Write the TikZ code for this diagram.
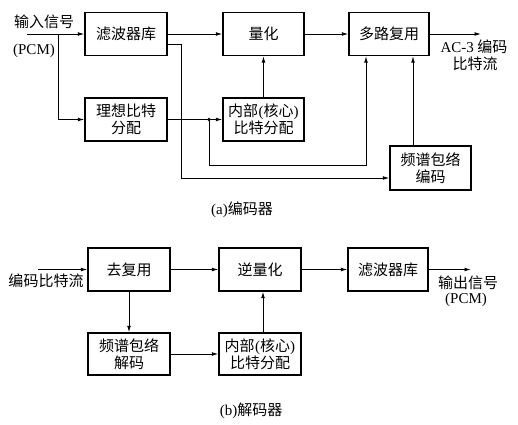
\documentclass[tikz,border=0pt]{standalone}
\usepackage{fontspec}
\setmainfont{Liberation Serif}
\newfontfamily\cjk{Noto Sans CJK SC}
\newfontfamily\lat{Liberation Serif}
\usetikzlibrary{arrows.meta}
\tikzset{
  blk/.style={draw, line width=1.3pt, minimum width=82pt, minimum height=43pt, inner sep=0pt, align=center, font=\cjk\fontsize{15}{17}\selectfont},
  arr/.style={line width=0.9pt, -{Latex[length=6.5pt,width=3.8pt]}},
  ln/.style={line width=0.9pt},
  lbl/.style={inner sep=0pt, font=\cjk\fontsize{15}{17}\selectfont}
}
\begin{document}
\begin{tikzpicture}[x=1pt,y=-1pt]
\useasboundingbox (0,0) rectangle (518,424);
% ---- encoder ----
\node[blk] (fb) at (126,34) {滤波器库};
\node[blk, minimum width=81pt] (qz) at (263.5,34) {量化};
\node[blk, minimum width=80pt] (mux) at (389,34) {多路复用};
\node[blk] (ideal) at (126,119.5) {理想比特\\分配};
\node[blk, minimum width=81pt] (inner) at (263.5,119.5) {内部{\lat\kern0.5pt(}核心{\lat)\kern0.5pt}\\比特分配};
\node[blk, minimum width=81pt, minimum height=44pt] (spec) at (430.5,168) {频谱包络\\编码};

\coordinate (in) at (27,34);
\coordinate (br) at (58,34);
\coordinate (d) at (209,119.5);
\coordinate (out) at (481,34);

\node[lbl] (inlbl) at (44,22) {输入信号};
\node[lbl] (pcm1) at (34,51) {\lat (PCM)};
\node[lbl] (ac3) at (474,47) {{\lat AC-3} 编码};
\node[lbl] (bs) at (475,64) {比特流};

\draw[arr] (in) -- (fb.west);
\draw[arr] (br) |- (ideal.west);
\draw[arr] (fb.east) -- (qz.west);
\draw[arr] ([yshift=-10pt]fb.east) -- ++(14,0) |- ([yshift=-10pt]spec.west);
\draw[arr] (ideal.east) -- (inner.west);
\fill (d) circle (1.8pt);
\draw[arr] (d) -- ++(0,45.5) -| ([xshift=-23pt]mux.south);
\draw[arr] (inner.north) -- (qz.south);
\draw[arr] (qz.east) -- (mux.west);
\draw[arr] ([xshift=-17.5pt]spec.north) -- ([xshift=-17.5pt]spec.north |- mux.south);
\draw[arr] (mux.east) -- (out);

\node[lbl] (capa) at (242,210) {{\lat (a)}编码器};

% ---- decoder ----
\node[blk] (demux) at (129,269.5) {去复用};
\node[blk] (iq) at (260,269.5) {逆量化};
\node[blk, minimum width=80pt] (fb2) at (388,269.5) {滤波器库};
\node[blk, minimum height=42pt] (sd) at (129,354) {频谱包络\\解码};
\node[blk, minimum height=42pt] (ib2) at (260,354) {内部{\lat\kern0.5pt(}核心{\lat)\kern0.5pt}\\比特分配};

\coordinate (in2) at (38,269.5);
\coordinate (out2) at (471,269.5);

\node[lbl] (eb) at (46,281) {编码比特流};
\node[lbl] (outlbl) at (468,283) {输出信号};
\node[lbl] (pcm2) at (466,300) {\lat (PCM)};

\draw[arr] (in2) -- (demux.west);
\draw[arr] (demux.east) -- (iq.west);
\draw[arr] (demux.south) -- (sd.north);
\draw[arr] (sd.east) -- (ib2.west);
\draw[arr] ([xshift=3pt]ib2.north) -- ([xshift=3pt]iq.south);
\draw[arr] (iq.east) -- (fb2.west);
\draw[arr] (fb2.east) -- (out2);

\node[lbl] (capb) at (251,411) {{\lat (b)}解码器};
\end{tikzpicture}
\end{document}
